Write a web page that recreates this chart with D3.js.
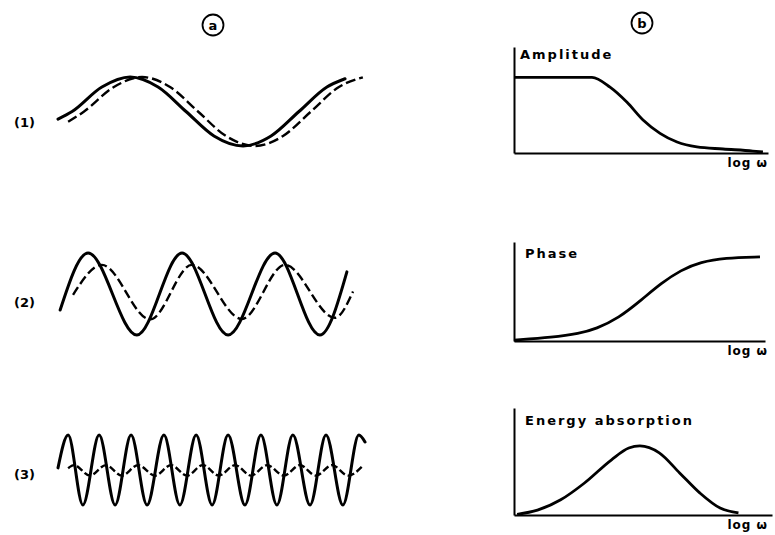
<!DOCTYPE html>
<html>
<head>
<meta charset="utf-8">
<script src="https://cdn.jsdelivr.net/npm/d3@7"></script>
<style>
  body { margin: 0; background: #fff; }
  svg { display: block; }
  text { font-family: "DejaVu Sans", sans-serif; font-weight: bold; fill: #000; }
</style>
</head>
<body>
<svg id="chart" width="775" height="535"></svg>
<script>
// ---- data ----
// column (a): time t (0..100) vs displacement (-1..1); solid = stress, dashed = strain
var rowLabels = ['(1)', '(2)', '(3)'];

var wave1Solid  = [[0, -0.22], [4.6, 0], [14.3, 0.71], [23.5, 1], [32.6, 0.71], [41.7, 0], [50.8, -0.71],
                   [60.3, -1], [69.4, -0.71], [78.5, 0], [87.6, 0.71], [93.5, 0.95]];
var wave1Dashed = [[3.3, -0.3], [8.5, 0], [18.2, 0.71], [27.4, 1], [36.5, 0.71], [45.6, 0], [54.7, -0.71],
                   [64.2, -1], [73.3, -0.71], [82.4, 0], [91.5, 0.71], [99.3, 0.99]];

var wave2Solid  = [[0.7, -0.39], [9.8, 1], [25.7, -1], [40.4, 1], [55.4, -1], [70.7, 1], [85.3, -1], [94.1, 0.54]];
var wave2Dashed = [[4.9, -0.02], [14.3, 0.71], [30.0, -0.62], [43.6, 0.71], [59.9, -0.61], [73.9, 0.71], [90.2, -0.58], [96.1, 0.06]];

var wave3Solid  = [[0, 0.06], [3.3, 1], [8.1, -1], [13.4, 1], [18.6, -1], [23.8, 1], [29.0, -1], [34.5, 1], [39.7, -1],
                   [45.0, 1], [50.2, -1], [55.4, 1], [60.9, -1], [66.1, 1], [71.3, -1], [76.5, 1], [82.1, -1],
                   [87.3, 1], [92.8, -1], [98.0, 1], [100, 0.8]];
var wave3Dashed = [[3.3, 0.05], [5.2, 0.14], [10.4, -0.16], [15.6, 0.14], [20.8, -0.16], [26.1, 0.14], [31.6, -0.16],
                   [36.8, 0.14], [42.0, -0.16], [47.2, 0.14], [52.4, -0.16], [57.7, 0.14], [62.9, -0.16],
                   [68.1, 0.14], [73.6, -0.16], [78.8, 0.14], [84.0, -0.16], [89.3, 0.14], [94.5, -0.16], [99.3, 0.12]];

// column (b): log w (0..10)
var amplitudeData = [[0, 1], [3.07, 1], [3.78, 0.87], [4.45, 0.67], [5.08, 0.436], [5.75, 0.26], [6.42, 0.145],
                     [7.2, 0.08], [8.23, 0.053], [9.4, 0.026], [9.8, 0.013]];
var phaseData     = [[0, 2], [1.54, 8], [2.6, 16], [3.27, 26], [4.17, 49], [5.08, 88], [5.87, 124], [6.65, 152],
                     [7.44, 169], [8.39, 178], [9.8, 180]];
var energyData    = [[0.12, 0.01], [0.91, 0.07], [1.81, 0.22], [2.72, 0.46], [3.78, 0.80], [4.45, 0.97],
                     [4.88, 1.0], [5.63, 0.90], [6.42, 0.61], [7.2, 0.32], [7.99, 0.10], [8.7, 0.03]];
var panelTitles = ['Amplitude', 'Phase', 'Energy absorption'];
var xAxisLabel = 'log \u03c9';

var svg = d3.select('#chart');

// ---- column headers (circled letters) ----
[['a', 213, 25], ['b', 642, 23]].forEach(function (h) {
    svg.append('circle')
        .attr('cx', h[1]).attr('cy', h[2]).attr('r', 10.5)
        .attr('fill', 'none').attr('stroke', '#000').attr('stroke-width', 1.8);
    svg.append('text')
        .attr('x', h[1]).attr('y', h[2] + 4.5)
        .attr('text-anchor', 'middle')
        .style('font-size', '13px')
        .text(h[0]);
});

// ---- column (a): waveforms ----
var xWave = d3.scaleLinear().domain([0, 100]).range([58, 365]);
var waveRows = [
    { solid: wave1Solid, dashed: wave1Dashed, top: 77,  bottom: 146, labelY: 127, dash: '10,4' },
    { solid: wave2Solid, dashed: wave2Dashed, top: 253, bottom: 335, labelY: 307, dash: '9,4' },
    { solid: wave3Solid, dashed: wave3Dashed, top: 435, bottom: 505, labelY: 479, dash: '7,3' }
];

waveRows.forEach(function (row, i) {
    var y = d3.scaleLinear().domain([-1, 1]).range([row.bottom, row.top]);
    var line = d3.line()
        .x(function (d) { return xWave(d[0]); })
        .y(function (d) { return y(d[1]); })
        .curve(d3.curveMonotoneX);

    svg.append('path')                  // dashed response
        .attr('d', line(row.dashed))
        .attr('fill', 'none')
        .attr('stroke', '#000')
        .attr('stroke-width', 2.4)
        .attr('stroke-dasharray', row.dash);

    svg.append('path')                  // solid driving wave
        .attr('d', line(row.solid))
        .attr('fill', 'none')
        .attr('stroke', '#000')
        .attr('stroke-width', 3)
        .attr('stroke-linecap', 'round');

    svg.append('text')
        .attr('x', 35).attr('y', row.labelY)
        .attr('text-anchor', 'end')
        .style('font-size', '13px')
        .text(rowLabels[i]);
});

// ---- column (b): frequency responses ----
var panels = [
    { data: amplitudeData, yMax: 1.4,  top: 47,  base: 153, right: 768, titleX: 520, titleY: 59,  curve: d3.curveMonotoneX },
    { data: phaseData,     yMax: 212,  top: 242, base: 341, right: 765, titleX: 525, titleY: 258, curve: d3.curveBasis },
    { data: energyData,    yMax: 1.55, top: 408, base: 515, right: 772, titleX: 525, titleY: 425, curve: d3.curveMonotoneX }
];

panels.forEach(function (p, i) {
    var x = d3.scaleLinear().domain([0, 10]).range([514, p.right]);
    var y = d3.scaleLinear().domain([0, p.yMax]).range([p.base, p.top]);

    // axes: plain lines, no ticks
    svg.append('g')
        .attr('transform', 'translate(0,' + p.base + ')')
        .call(d3.axisBottom(x).tickValues([]).tickSizeOuter(0))
        .select('.domain').attr('stroke-width', 2);
    svg.append('g')
        .attr('transform', 'translate(514,0)')
        .call(d3.axisLeft(y).tickValues([]).tickSizeOuter(0))
        .select('.domain').attr('stroke-width', 2);

    var line = d3.line()
        .x(function (d) { return x(d[0]); })
        .y(function (d) { return y(d[1]); })
        .curve(p.curve);

    svg.append('path')
        .attr('d', line(p.data))
        .attr('fill', 'none')
        .attr('stroke', '#000')
        .attr('stroke-width', 2.8);

    svg.append('text')
        .attr('x', p.titleX).attr('y', p.titleY)
        .style('font-size', '13px')
        .style('letter-spacing', '2px')
        .text(panelTitles[i]);

    svg.append('text')
        .attr('x', 768).attr('y', p.base + 14)
        .attr('text-anchor', 'end')
        .style('font-size', '12px')
        .style('letter-spacing', '1px')
        .text(xAxisLabel);
});
</script>
</body>
</html>
